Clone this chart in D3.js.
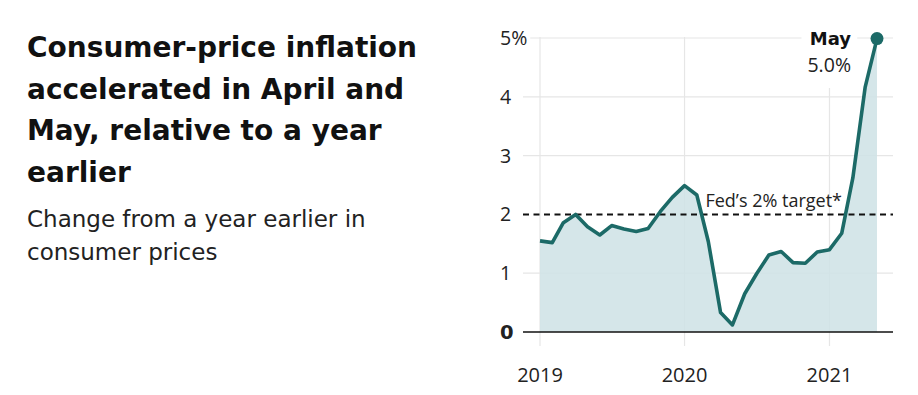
<!DOCTYPE html>
<html><head><meta charset="utf-8">
<script src="https://cdn.jsdelivr.net/npm/d3@7"></script>
<style>
body{margin:0;background:#fff;}
svg{display:block;}
</style></head>
<body><svg id="c" width="918" height="395"></svg>
<script>
const titleLines = ["Consumer-price inflation","accelerated in April and","May, relative to a year","earlier"];
const subtitleLines = ["Change from a year earlier in","consumer prices"];
const months = ["2019-01","2019-02","2019-03","2019-04","2019-05","2019-06","2019-07","2019-08","2019-09","2019-10","2019-11","2019-12",
"2020-01","2020-02","2020-03","2020-04","2020-05","2020-06","2020-07","2020-08","2020-09","2020-10","2020-11","2020-12",
"2021-01","2021-02","2021-03","2021-04","2021-05"];
const cpi = [1.55,1.52,1.86,2.00,1.79,1.65,1.81,1.75,1.71,1.76,2.05,2.29,
2.49,2.33,1.54,0.33,0.12,0.65,0.99,1.31,1.37,1.18,1.17,1.36,
1.40,1.68,2.62,4.16,4.99];
const yTicks = [0,1,2,3,4,5];
const yTickLabels = ["0","1","2","3","4","5%"];
const xTicks = ["2019-01","2020-01","2021-01"];
const xTickLabels = ["2019","2020","2021"];
const target = 2;
const targetLabel = "Fed\u2019s 2% target*";
const lastLabel = "May";
const lastValue = "5.0%";

const parse = d3.timeParse("%Y-%m");
const data = months.map((m,i)=>({date:parse(m), v:cpi[i]}));

const svg = d3.select("#c");
const boldFont = "'DejaVu Sans', 'Liberation Sans', sans-serif";
const lightFont = "'Open Sans', 'Liberation Sans', sans-serif";
const subFont = "'DejaVu Sans', 'Open Sans', sans-serif";

// Title
const tg = svg.append("g");
titleLines.forEach((t,i)=>{
  tg.append("text").attr("x",27).attr("y",57+i*41.5)
    .attr("font-family",boldFont).attr("font-weight",700).attr("font-size",28)
    .attr("fill","#111").text(t);
});
subtitleLines.forEach((t,i)=>{
  tg.append("text").attr("x",27).attr("y",227+i*33)
    .attr("font-family",subFont).attr("font-weight",400).attr("font-size",23)
    .attr("fill","#222").text(t);
});

const x = d3.scaleTime().domain([parse("2019-01"), parse("2021-05")]).range([540, 877]);
const y = d3.scaleLinear().domain([0,5]).range([332, 38]);
const gridLeft = 523, gridRight = 893;

// vertical gridlines
svg.append("g").selectAll("line").data(xTicks).join("line")
  .attr("x1",d=>x(parse(d))).attr("x2",d=>x(parse(d)))
  .attr("y1",37).attr("y2",346)
  .attr("stroke","#e6e6e6").attr("stroke-width",1.2);
// horizontal gridlines
svg.append("g").selectAll("line").data(yTicks.filter(d=>d>0 && d!==target)).join("line")
  .attr("x1",gridLeft).attr("x2",gridRight)
  .attr("y1",d=>y(d)).attr("y2",d=>y(d))
  .attr("stroke","#e6e6e6").attr("stroke-width",1.2);

// area
const area = d3.area().x(d=>x(d.date)).y0(y(0)).y1(d=>y(d.v));
svg.append("path").datum(data).attr("d",area).attr("fill","#cfe2e6").attr("fill-opacity",0.88);

// zero line
svg.append("line").attr("x1",gridLeft).attr("x2",gridRight).attr("y1",y(0)).attr("y2",y(0))
  .attr("stroke","#111").attr("stroke-width",1.5);

// target dashed line
svg.append("line").attr("x1",gridLeft).attr("x2",gridRight).attr("y1",y(target)).attr("y2",y(target))
  .attr("stroke","#111").attr("stroke-width",2).attr("stroke-dasharray","6,4.5");
svg.append("text").attr("x",842).attr("y",y(target)-7).attr("text-anchor","end")
  .attr("font-family",lightFont).attr("font-weight",400).attr("font-size",18).attr("fill","#222").text(targetLabel);

// line
const line = d3.line().x(d=>x(d.date)).y(d=>y(d.v));
svg.append("path").datum(data).attr("d",line).attr("fill","none")
  .attr("stroke","#1c6a67").attr("stroke-width",3.6).attr("stroke-linejoin","round");

// end dot
const last = data[data.length-1];
svg.append("circle").attr("cx",x(last.date)).attr("cy",y(last.v)).attr("r",6.5).attr("fill","#1c6a67");

// end label with white background
const lg = svg.append("g");
const lbg = lg.append("rect").attr("fill","#fff");
lg.append("text").attr("x",851).attr("y",45).attr("text-anchor","end")
  .attr("font-family",boldFont).attr("font-weight",700).attr("font-size",18).attr("fill","#111").text(lastLabel);
lg.append("text").attr("x",851).attr("y",72).attr("text-anchor","end")
  .attr("font-family",lightFont).attr("font-weight",400).attr("font-size",19.5).attr("fill","#222").text(lastValue);
const bb = lg.node().getBBox();
lbg.attr("x",bb.x-6).attr("y",bb.y-2).attr("width",bb.width+12).attr("height",bb.height+12);

// y labels
const yl = svg.append("g");
yTicks.forEach((t,i)=>{
  const g = yl.append("g");
  const r = g.append("rect").attr("fill","#fff");
  const tx = g.append("text").attr("x",500).attr("y",y(t)+7)
    .attr("font-family", t===0?boldFont:lightFont).attr("font-weight",t===0?700:400)
    .attr("font-size",19.5).attr("fill","#222").text(yTickLabels[i]);
  const b = tx.node().getBBox();
  r.attr("x",b.x-2).attr("y",b.y).attr("width",b.width+5).attr("height",b.height);
});

// x labels
svg.append("g").selectAll("text").data(xTicks).join("text")
  .attr("x",d=>x(parse(d))).attr("y",382).attr("text-anchor","middle")
  .attr("font-family",lightFont).attr("font-weight",400).attr("font-size",20).attr("fill","#222")
  .text((d,i)=>xTickLabels[i]);
</script></body></html>
